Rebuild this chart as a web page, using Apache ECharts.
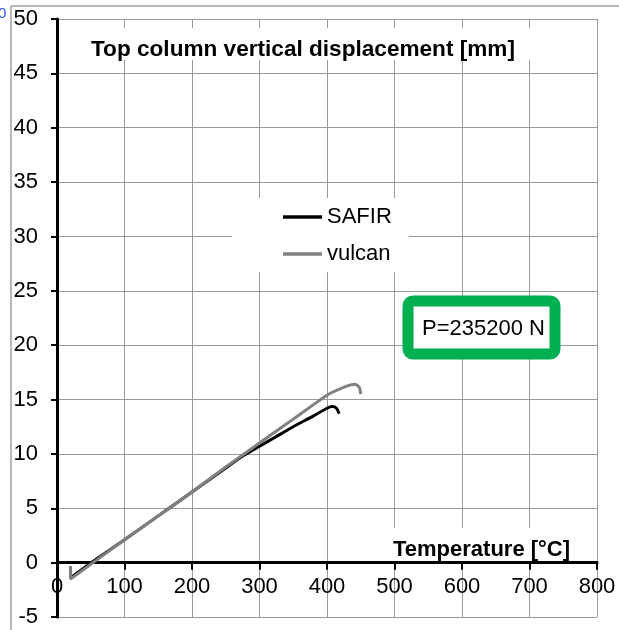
<!DOCTYPE html>
<html>
<head>
<meta charset="utf-8">
<script src="https://cdn.jsdelivr.net/npm/echarts@6/dist/echarts.min.js"></script>
<style>
html,body{margin:0;padding:0;background:#fff;}
#chart{width:619px;height:630px;}
</style>
</head>
<body>
<div id="chart"></div>
<script>
// ---- data ----
const chartTitle = 'Top column vertical displacement [mm]';
const xAxisName = 'Temperature [°C]';
const annotation = 'P=235200 N';
const seriesNames = ['SAFIR', 'vulcan'];

const tempSafir = [20, 60, 100, 150, 200, 250, 275, 300, 325, 350, 380, 400, 408, 414, 418];
const dispSafir = [-1.4, 0.4, 2.1, 4.3, 6.5, 8.7, 9.8, 10.7, 11.6, 12.5, 13.5, 14.2, 14.35, 14.2, 13.7];

const tempVulcan = [20, 20, 60, 100, 150, 200, 250, 300, 350, 400, 420, 435, 442, 448, 450];
const dispVulcan = [-0.3, -1.5, 0.3, 2.1, 4.3, 6.5, 8.8, 11.0, 13.2, 15.4, 16.0, 16.35, 16.4, 16.1, 15.5];

const xMin = 0, xMax = 800, xStep = 100;
const yMin = -5, yMax = 50, yStep = 5;

const toPairs = (xs, ys) => xs.map((x, i) => [x, ys[i]]);

const FONT = 'Liberation Sans, Arial, sans-serif';
const GRID_TOP = 19, GRID_BOTTOM = 13, H = 630;
const plotH = H - GRID_TOP - GRID_BOTTOM;
// move the x axis (line, ticks, labels) up to y = 0
const xAxisOffset = -plotH * (0 - yMin) / (yMax - yMin);

const chart = echarts.init(document.getElementById('chart'), null, {renderer: 'canvas'});

const option = {
  backgroundColor: '#fff',
  animation: false,
  grid: {left: 57, right: 22, top: GRID_TOP, bottom: GRID_BOTTOM, containLabel: false, outerBoundsMode: 'none'},
  xAxis: {
    type: 'value', min: xMin, max: xMax, interval: xStep,
    position: 'bottom', offset: xAxisOffset,
    axisLine: {onZero: false, lineStyle: {color: '#000', width: 3}},
    axisTick: {show: true, length: 7, lineStyle: {color: '#000', width: 2}},
    axisLabel: {fontSize: 22, color: '#000', fontFamily: FONT, margin: 13},
    splitLine: {show: true, lineStyle: {color: '#9a9a9a', width: 1}}
  },
  yAxis: {
    type: 'value', min: yMin, max: yMax, interval: yStep,
    axisLine: {show: true, onZero: false, lineStyle: {color: '#000', width: 3}},
    axisTick: {show: true, length: 6, lineStyle: {color: '#000', width: 2}},
    axisLabel: {fontSize: 22, color: '#000', fontFamily: FONT, margin: 19},
    splitLine: {show: true, lineStyle: {color: '#9a9a9a', width: 1}}
  },
  legend: {
    orient: 'vertical', left: 232, top: 198,
    padding: [8, 17, 7, 51],
    backgroundColor: '#fff',
    itemGap: 15,
    itemWidth: 39, itemHeight: 3.5,
    icon: 'rect',
    data: seriesNames,
    textStyle: {fontSize: 22, color: '#000', fontFamily: FONT, lineHeight: 22}
  },
  series: [
    {
      name: seriesNames[0], type: 'line', data: toPairs(tempSafir, dispSafir),
      showSymbol: false, symbol: 'none', smooth: 0.2,
      lineStyle: {color: '#000', width: 3}, itemStyle: {color: '#000'}, z: 3
    },
    {
      name: seriesNames[1], type: 'line', data: toPairs(tempVulcan, dispVulcan),
      showSymbol: false, symbol: 'none', smooth: 0.2,
      lineStyle: {color: '#808080', width: 3}, itemStyle: {color: '#808080'}, z: 4
    }
  ],
  graphic: [
    // outer frame of the chart area
    {type: 'line', z: 1, shape: {x1: 11, y1: 6, x2: 619, y2: 6}, style: {stroke: '#a0a0a0', lineWidth: 1.5}},
    {type: 'line', z: 1, shape: {x1: 11, y1: 6, x2: 11, y2: 630}, style: {stroke: '#a0a0a0', lineWidth: 1.5}},
    {type: 'text', z: 1, left: -2, top: 6, style: {text: '0', fill: '#3355ff', font: '15px ' + FONT}},
    // white box behind the title
    {type: 'rect', z: 1, shape: {x: 82, y: 28, width: 455, height: 32}, style: {fill: '#fff'}},
    {type: 'text', z: 5, x: 91, y: 50, style: {text: chartTitle, fill: '#000', font: 'bold 22.6px ' + FONT, textVerticalAlign: 'middle'}},
    // axis name box
    {type: 'rect', z: 1, shape: {x: 386, y: 528, width: 194, height: 33}, style: {fill: '#fff'}},
    {type: 'text', z: 5, x: 393, y: 550, style: {text: xAxisName, fill: '#000', font: 'bold 22px ' + FONT, textVerticalAlign: 'middle'}},
    // green annotation box
    {type: 'rect', z: 5, shape: {x: 408, y: 301, width: 147, height: 53, r: 5}, style: {fill: '#fff', stroke: '#00b050', lineWidth: 11}},
    {type: 'text', z: 6, x: 422, y: 329, style: {text: annotation, fill: '#000', font: '22px ' + FONT, textVerticalAlign: 'middle'}}
  ]
};
chart.setOption(option);
</script>
</body>
</html>
